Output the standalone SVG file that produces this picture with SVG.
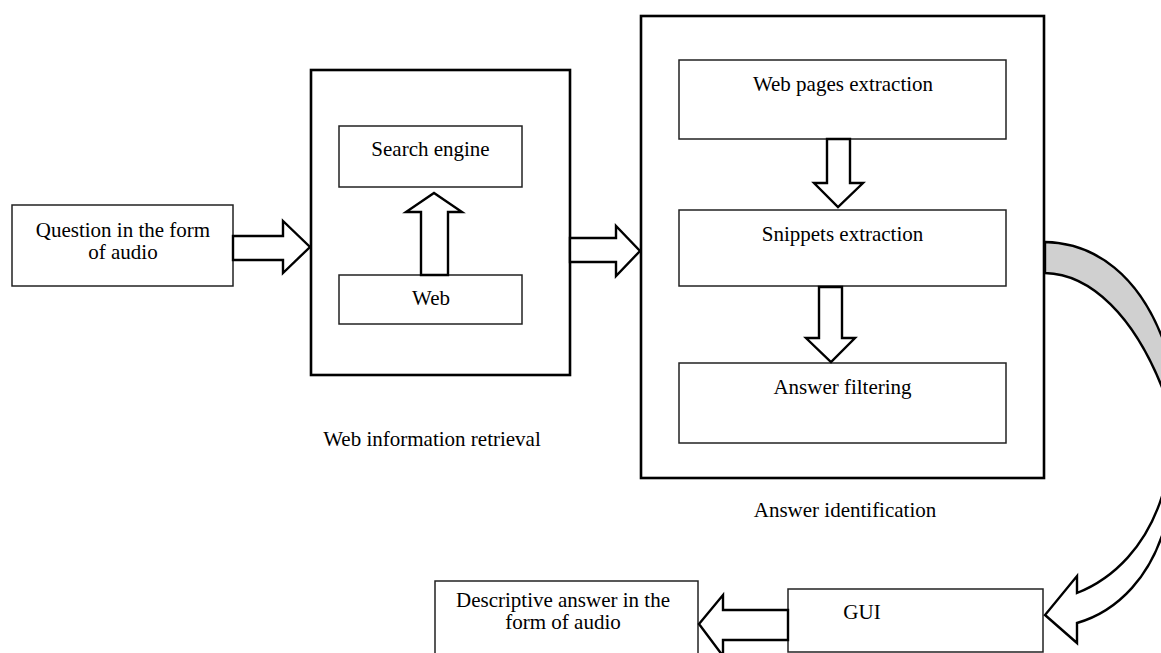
<svg xmlns="http://www.w3.org/2000/svg" width="1161" height="653" viewBox="0 0 1161 653">
<style>
  .outer { fill: #fff; stroke: #000; stroke-width: 2.6; }
  .inner { fill: #fff; stroke: #222; stroke-width: 1.5; }
  .arrow { fill: #fff; stroke: #000; stroke-width: 2.4; stroke-linejoin: miter; }
  .band { fill: #d0d0d0; stroke: #000; stroke-width: 2.4; }
  text { font-family: "Liberation Serif", "Times New Roman", serif; font-size: 21px; fill: #000; text-anchor: middle; }
</style>
<rect x="0" y="0" width="1161" height="653" fill="#fff"/>

<g id="question">
  <rect class="inner" x="12" y="205" width="221" height="81"/>
  <text x="123" y="237">Question in the form</text>
  <text x="123" y="259">of audio</text>
</g>

<g id="web-information-retrieval">
  <rect class="outer" x="311" y="70" width="259" height="305"/>
  <text x="432" y="446">Web information retrieval</text>
</g>

<g id="search-engine">
  <rect class="inner" x="339" y="126" width="183" height="61"/>
  <text x="430.5" y="156">Search engine</text>
</g>

<g id="web">
  <rect class="inner" x="339" y="275" width="183" height="49"/>
  <text x="431" y="305">Web</text>
</g>

<g id="answer-identification">
  <rect class="outer" x="641" y="16" width="403" height="462"/>
  <text x="845" y="517">Answer identification</text>
</g>

<g id="web-pages-extraction">
  <rect class="inner" x="679" y="60" width="327" height="79"/>
  <text x="843" y="91">Web pages extraction</text>
</g>

<g id="snippets-extraction">
  <rect class="inner" x="679" y="210" width="327" height="76"/>
  <text x="842.5" y="241">Snippets extraction</text>
</g>

<g id="answer-filtering">
  <rect class="inner" x="679" y="363" width="327" height="80"/>
  <text x="842.5" y="394">Answer filtering</text>
</g>

<g id="gui">
  <rect class="inner" x="788" y="589" width="255" height="63"/>
  <text x="862" y="619">GUI</text>
</g>

<g id="descriptive-answer">
  <rect class="inner" x="435" y="581" width="263" height="80"/>
  <text x="563" y="607">Descriptive answer in the</text>
  <text x="563" y="629">form of audio</text>
</g>

<g id="connectors">
  <path class="arrow" d="M233,236 L283,236 L283,221 L310,247 L283,273 L283,260 L233,260 Z"/>
  <path class="arrow" d="M421,275 L421,212 L406,212 L434,193 L462,212 L448,212 L448,275 Z"/>
  <path class="arrow" d="M570,238 L616,238 L616,226 L640,251 L616,276 L616,262 L570,262 Z"/>
  <path class="arrow" d="M827,139 L827,183 L814,183 L838,207 L863,183 L850,183 L850,139 Z"/>
  <path class="arrow" d="M819,287 L819,338 L806,338 L831,362 L855,338 L842,338 L842,287 Z"/>
  <path class="arrow" d="M788,610 L723,610 L723,595 L699,624 L723,656 L723,640 L788,640 Z"/>
  <path class="band" d="M1045,242 C1095,243 1140,275 1165,345 L1200,345 L1200,395 L1165,395 C1135,315 1090,274 1045,273 Z"/>
  <path class="arrow" d="M1166,482 C1150,548 1110,580 1077,593 L1077,576 L1045,615 L1077,643 L1077,623 C1115,612 1155,578 1169,510 L1200,510 L1200,482 Z"/>
</g>
</svg>
